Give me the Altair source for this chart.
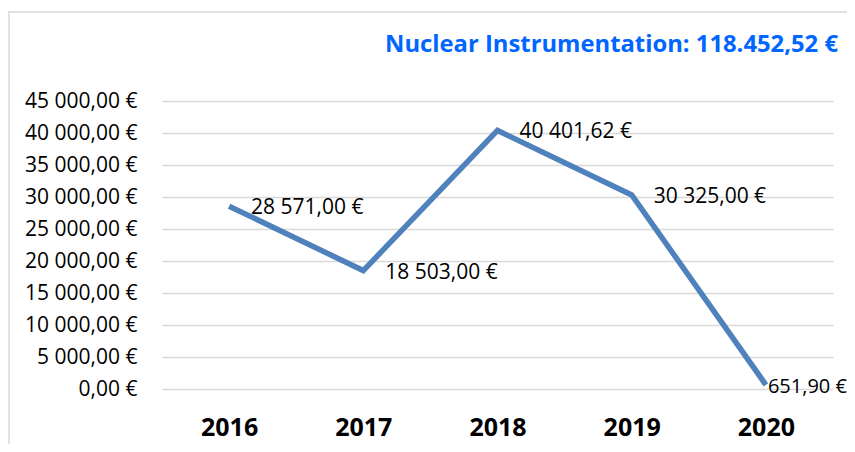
import altair as alt
import pandas as pd

years = ["2016", "2017", "2018", "2019", "2020"]
amounts = [28571.00, 18503.00, 40401.62, 30325.00, 651.90]
title_text = "Nuclear Instrumentation: 118.452,52 €"
y_ticks = [0, 5000, 10000, 15000, 20000, 25000, 30000, 35000, 40000, 45000]

df = pd.DataFrame({"year": years, "amount": amounts})

FONT = "Open Sans"
GRID = "#d9d9d9"
LINE = "#4F81BD"

x_enc = alt.X(
    "year:N",
    sort=years,
    axis=alt.Axis(
        title=None, labelAngle=0, ticks=False, grid=False, domain=False,
        labelFont=FONT, labelFontSize=25, labelFontWeight="bold",
        labelColor="#000000", labelPadding=26,
    ),
)
y_enc = alt.Y(
    "amount:Q",
    scale=alt.Scale(domain=[0, 45000], nice=False),
    axis=alt.Axis(
        title=None, values=y_ticks, tickCount=20, format="$,.2f", ticks=False, domain=False,
        labelOverlap=False, gridColor=GRID, gridWidth=1.3, labelFont=FONT,
        labelFontSize=21, labelColor="#000000", labelPadding=25,
    ),
)

base = alt.Chart(df)

line = base.mark_line(color=LINE, strokeWidth=5.5, strokeJoin="miter").encode(x=x_enc, y=y_enc)

labels_main = base.transform_filter(alt.datum.year != "2020").mark_text(
    align="left", baseline="middle", dx=22, dy=2, font=FONT, fontSize=21, color="#000000"
).encode(x=x_enc, y=y_enc, text=alt.Text("amount:Q", format="$,.2f"))

labels_last = base.transform_filter(alt.datum.year == "2020").mark_text(
    align="left", baseline="middle", dx=2, dy=2, font=FONT, fontSize=20, color="#000000"
).encode(x=x_enc, y=y_enc, text=alt.Text("amount:Q", format="$,.2f"))

frame_df = pd.DataFrame({"k": [0]})
frame_top = alt.Chart(frame_df).mark_rule(color=GRID, strokeWidth=1.5).encode(
    x=alt.value(-154), x2=alt.value(690), y=alt.value(-89)
)
frame_left = alt.Chart(frame_df).mark_rule(color=GRID, strokeWidth=1.5).encode(
    x=alt.value(-153), y=alt.value(-89), y2=alt.value(345)
)
title_mark = alt.Chart(pd.DataFrame({"t": [title_text]})).mark_text(
    align="right", baseline="alphabetic", font=FONT, fontSize=23.8, fontWeight="bold",
    color="#0066FF",
).encode(x=alt.value(676), y=alt.value(-49), text="t:N")

chart = alt.layer(frame_top, frame_left, line, labels_main, labels_last, title_mark).properties(
    width=671,
    height=288,
    autosize="none",
    padding={"left": 154, "top": 93, "right": 14, "bottom": 55},
).configure(
    locale={"number": {"decimal": ",", "thousands": " ", "grouping": [3], "currency": ["", " €"]}}
).configure_view(stroke=None)

chart.save("out.html", embed_options={"renderer": "svg", "actions": False})
